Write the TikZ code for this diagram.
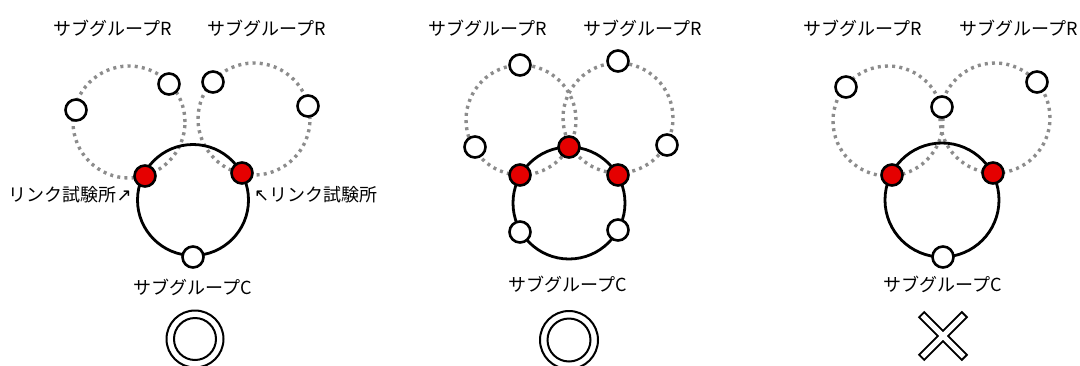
\documentclass[tikz,border=0pt]{standalone}
\usepackage{fontspec}
\setmainfont{Noto Sans CJK JP}
\newfontfamily\arrfont{DejaVu Sans}
\begin{document}
\begin{tikzpicture}[x=1pt,y=-1pt,
  ring/.style={circle,draw=black,line width=2.8pt,minimum size=#1,inner sep=0pt},
  dring/.style={circle,draw=black!45,line width=3.4pt,dash pattern=on 3pt off 4.2pt,minimum size=#1,inner sep=0pt},
  wnode/.style={circle,draw=black,line width=2.6pt,fill=white,minimum size=21pt,inner sep=0pt},
  rnode/.style={circle,draw=black,line width=2.6pt,fill=red!90!black,minimum size=21pt,inner sep=0pt},
  lbl/.style={font=\fontsize{18}{20}\selectfont,inner sep=0pt},
  dblo/.style={draw=black,line width=2pt}
]
\useasboundingbox[fill=white] (0,0) rectangle (1080,365);

% ---------- Panel 1 ----------
\node[lbl] (p1r1) at (113,28) {サブグループR};
\node[lbl] (p1r2) at (267,28) {サブグループR};
\node[dring=112pt] (p1dl) at (129,122) {};
\node[dring=112pt] (p1dr) at (254,119) {};
\node[ring=111pt] (p1c) at (193,200) {};
\node[rnode] (p1a) at (145,176) {};
\node[rnode] (p1b) at (242,173) {};
\node[wnode] (p1w0) at (193,257) {};
\node[wnode] (p1w1) at (76,110) {};
\node[wnode] (p1w2) at (169,84) {};
\node[wnode] (p1w3) at (213,82) {};
\node[wnode] (p1w4) at (308,106) {};
\node[lbl,anchor=east] (p1la) at (132,195) {リンク試験所{\arrfont\fontsize{18}{20}\selectfont ↗}};
\node[lbl,anchor=west] (p1lb) at (254,195) {{\arrfont\fontsize{18}{20}\selectfont ↖}リンク試験所};
\node[lbl] (p1cl) at (193,287) {サブグループC};
\node[circle,dblo,minimum size=57pt,inner sep=0pt] (p1o) at (195,339) {};
\node[circle,dblo,minimum size=42pt,inner sep=0pt] (p1i) at (195,339) {};

% ---------- Panel 2 ----------
\node[lbl] (p2r1) at (488,28) {サブグループR};
\node[lbl] (p2r2) at (643,28) {サブグループR};
\node[dring=110pt] (p2dl) at (521,120) {};
\node[dring=110pt] (p2dr) at (618,118) {};
\node[ring=112pt] (p2c) at (569,203) {};
\node[rnode] (p2a) at (569,147) {};
\node[rnode] (p2b) at (520,175) {};
\node[rnode] (p2d) at (618,175) {};
\node[wnode] (p2w1) at (520,232) {};
\node[wnode] (p2w2) at (618,230) {};
\node[wnode] (p2w3) at (475,147) {};
\node[wnode] (p2w4) at (520,65) {};
\node[wnode] (p2w5) at (618,61) {};
\node[wnode] (p2w6) at (667,145) {};
\node[lbl] (p2cl) at (568,284) {サブグループC};
\node[circle,dblo,minimum size=58pt,inner sep=0pt] (p2o) at (569,340) {};
\node[circle,dblo,minimum size=43pt,inner sep=0pt] (p2i) at (569,340) {};

% ---------- Panel 3 ----------
\node[lbl] (p3r1) at (863,28) {サブグループR};
\node[lbl] (p3r2) at (1019,28) {サブグループR};
\node[dring=110pt] (p3dl) at (888,121) {};
\node[dring=110pt] (p3dr) at (995,118) {};
\node[ring=114pt] (p3c) at (942,200) {};
\node[rnode] (p3a) at (892,175) {};
\node[rnode] (p3b) at (993,173) {};
\node[wnode] (p3w0) at (943,257) {};
\node[wnode] (p3w1) at (846,87) {};
\node[wnode] (p3w2) at (942,107) {};
\node[wnode] (p3w3) at (1037,82) {};
\node[lbl] (p3cl) at (943,284) {サブグループC};
\coordinate (x0) at (943,336);
\draw[line width=9pt,black] ([shift={(-22,-22)}]x0) -- ([shift={(22,22)}]x0)
  ([shift={(22,-22)}]x0) -- ([shift={(-22,22)}]x0);
\draw[line width=5pt,white] ([shift={(-20.6,-20.6)}]x0) -- ([shift={(20.6,20.6)}]x0)
  ([shift={(20.6,-20.6)}]x0) -- ([shift={(-20.6,20.6)}]x0);
\end{tikzpicture}
\end{document}
